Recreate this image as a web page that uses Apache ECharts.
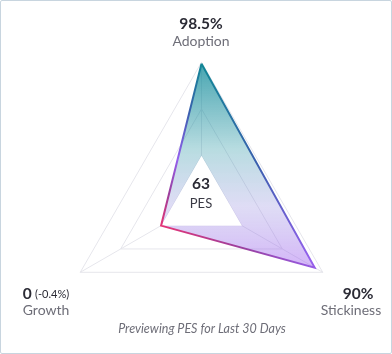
<!DOCTYPE html>
<html>
<head>
<meta charset="utf-8">
<script src="https://cdn.jsdelivr.net/npm/echarts@6/dist/echarts.min.js"></script>
<style>
  html, body { margin: 0; padding: 0; background: #fff; }
  #wrap { position: relative; width: 392px; height: 354px; }
  #chart { width: 392px; height: 354px; }
  #frame {
    position: absolute; left: 0; top: 0; right: 0; bottom: 0;
    border: 1px solid #c8d5df; border-radius: 2px;
    box-sizing: border-box; pointer-events: none;
  }
</style>
</head>
<body>
<div id="wrap">
  <div id="chart"></div>
  <div id="frame"></div>
</div>
<script>
// radar order: top, lower-left, lower-right
const indicators = ['Adoption', 'Growth', 'Stickiness']
const scores = [98.5, 0, 90]
const valueLabels = ['98.5%', '0', '90%']
const growthChange = '(-0.4%)'
const holeValues = [0, 0, 0]
const axisMin = -50
const axisMax = 100
const pesScore = 63
const footnote = 'Previewing PES for Last 30 Days'

const FONT = 'Lato, "Open Sans", sans-serif'
const dark = '#2b2b35'
const grey = '#6e6e78'

const chart = echarts.init(document.getElementById('chart'), null, { renderer: 'canvas' })

const lineGradient = {
  type: 'linear', x: 1, y: 0, x2: 0, y2: 1,
  colorStops: [
    { offset: 0, color: '#0f8a98' },
    { offset: 0.28, color: '#128696' },
    { offset: 0.45, color: '#3a5fae' },
    { offset: 0.62, color: '#9560ee' },
    { offset: 0.74, color: '#9a3f9e' },
    { offset: 0.88, color: '#f2336f' },
    { offset: 1, color: '#f2336f' },
  ],
}

const areaGradient = {
  type: 'linear', x: 0, y: 0, x2: 0, y2: 1,
  colorStops: [
    { offset: 0, color: 'rgba(20,140,155,0.78)' },
    { offset: 0.42, color: 'rgba(20,140,155,0.30)' },
    { offset: 0.7, color: 'rgba(140,130,220,0.28)' },
    { offset: 1, color: 'rgba(160,90,240,0.45)' },
  ],
}

function label(x, y, text, style) {
  return {
    type: 'text', x, y, z: 100,
    style: Object.assign({ text, font: '14px ' + FONT, fill: grey, align: 'center', verticalAlign: 'middle' }, style),
  }
}

chart.setOption({
  animation: false,
  radar: {
    center: [201.5, 202.3],
    radius: 140,
    startAngle: 90,
    splitNumber: 3,
    shape: 'polygon',
    indicator: indicators.map(name => ({ name, min: axisMin, max: axisMax })),
    axisName: { show: false },
    axisLine: { lineStyle: { color: '#e6e6ec', width: 1 } },
    splitLine: { lineStyle: { color: '#e6e6ec', width: 1 } },
    splitArea: { show: false },
    axisTick: { show: false },
    axisLabel: { show: false },
  },
  series: [{
    type: 'radar',
    symbol: 'none',
    silent: true,
    z: 2,
    data: [
      { value: scores, lineStyle: { width: 0, opacity: 0 }, areaStyle: { color: areaGradient, opacity: 1 } },
      { value: holeValues, lineStyle: { width: 0, opacity: 0 }, areaStyle: { color: '#fff', opacity: 1 } },
      { value: scores, lineStyle: { width: 2, color: lineGradient, join: 'miter' } },
    ],
  }],
  graphic: {
    elements: [
      label(201, 24, valueLabels[0], { font: 'bold 15.5px ' + FONT, fill: dark }),
      label(201, 41, indicators[0]),
      {
        type: 'text', x: 46, y: 294, z: 100,
        style: {
          text: '{b|' + valueLabels[1] + '} {s|' + growthChange + '}',
          align: 'center', verticalAlign: 'middle',
          rich: {
            b: { font: 'bold 15.5px ' + FONT, fill: dark },
            s: { font: '11px ' + FONT, fill: dark },
          },
        },
      },
      label(46, 310, indicators[1]),
      label(358, 294, valueLabels[2], { font: 'bold 15.5px ' + FONT, fill: dark }),
      label(351, 310, indicators[2]),
      label(201, 184, String(pesScore), { font: 'bold 15.5px ' + FONT, fill: dark }),
      label(201, 204, 'PES', { font: '13px ' + FONT, fill: '#3a3a44' }),
      label(202, 329, footnote, { font: 'italic 12.5px ' + FONT, fill: grey }),
    ],
  },
})
</script>
</body>
</html>
